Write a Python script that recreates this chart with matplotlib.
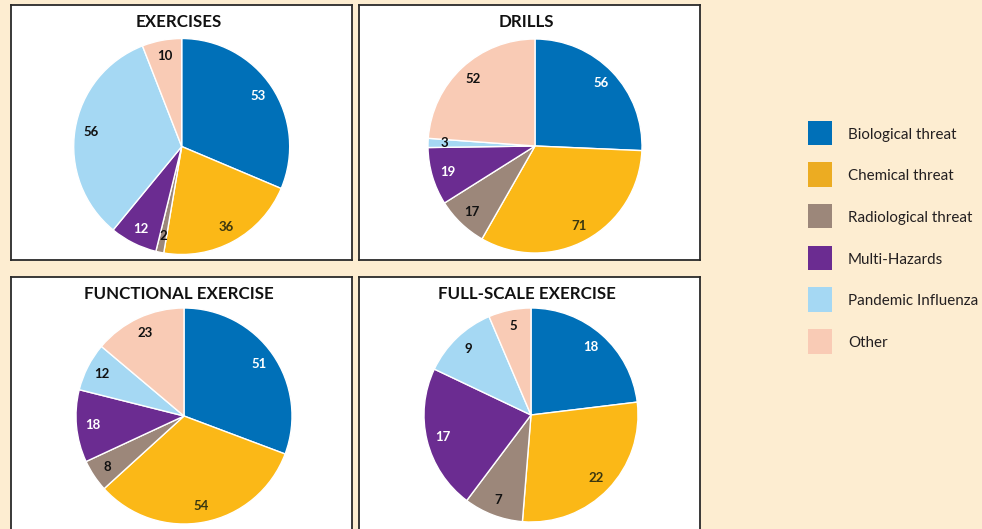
import numpy as np
import matplotlib.pyplot as plt
from matplotlib.patches import Rectangle

plt.rcParams['font.family'] = ['Lato', 'DejaVu Sans']

categories = ['Biological threat', 'Chemical threat', 'Radiological threat',
              'Multi-Hazards', 'Pandemic Influenza', 'Other']
colors = ['#0070b8', '#fbb817', '#9c877a', '#6b2c91', '#a5d8f3', '#f9cbb5']
swatch_colors = ['#0070b8', '#ecac22', '#9c877a', '#6b2c91', '#a5d8f3', '#f9cbb5']
label_colors = ['white', '#3b3710', '#111111', 'white', '#111111', '#111111']

titles = ['EXERCISES', 'DRILLS', 'FUNCTIONAL EXERCISE', 'FULL-SCALE EXERCISE']
exercises = [53, 36, 2, 12, 56, 10]
drills = [56, 71, 17, 19, 3, 52]
functional = [51, 54, 8, 18, 12, 23]
full_scale = [18, 22, 7, 17, 9, 5]

W, H = 982, 529
bg = '#fdedd1'

fig = plt.figure(figsize=(W / 100, H / 100), dpi=100)
fig.patch.set_facecolor(bg)

# panel boxes in pixels: left, top, right, bottom, pie centre (x, y), radius
panels = [
    (11, 5, 352, 260, (181.7, 146.5), 108),
    (359, 5, 700, 260, (535.0, 146.0), 107),
    (11, 277, 352, 540, (184.0, 416.0), 108),
    (359, 277, 700, 540, (531.0, 415.0), 107),
]

for title, values, (x0, y0, x1, y1, (cx, cy), r) in zip(
        titles, [exercises, drills, functional, full_scale], panels):
    w, h = x1 - x0, y1 - y0
    ax = fig.add_axes([x0 / W, (H - y1) / H, w / W, h / H])
    ax.set_facecolor('white')
    wedges, texts = ax.pie(values, colors=colors, startangle=90, counterclock=False,
                           radius=r, center=(cx - x0, y1 - cy), frame=True,
                           labels=[str(v) for v in values], labeldistance=0.85,
                           wedgeprops=dict(edgecolor='white', linewidth=1.0),
                           textprops=dict(fontsize=9.5, fontweight='bold'))
    for t, c in zip(texts, label_colors):
        t.set_color(c)
        t.set_horizontalalignment('center')
        t.set_verticalalignment('center')
    ax.set_xlim(0, w)
    ax.set_ylim(0, h)
    ax.set_aspect('auto')
    ax.set_xticks([])
    ax.set_yticks([])
    for s in ax.spines.values():
        s.set_color('#2a2a2a')
        s.set_linewidth(1.3)
    ax.text(0.5 * w - 3, h - 17, title, ha='center', va='center',
            fontsize=12.2, fontweight='bold', color='#111111')

# legend with square swatches
lax = fig.add_axes([0, 0, 1, 1])
lax.set_xlim(0, W)
lax.set_ylim(H, 0)
lax.axis('off')
for i, (name, c) in enumerate(zip(categories, swatch_colors)):
    top = 120.5 + i * 41.7
    lax.add_patch(Rectangle((808, top), 24.5, 24.5, facecolor=c, edgecolor='none'))
    lax.text(848, top + 14, name, ha='left', va='center', fontsize=10.9, color='#231f20')

fig.savefig('out.png', dpi=100, facecolor=bg)
